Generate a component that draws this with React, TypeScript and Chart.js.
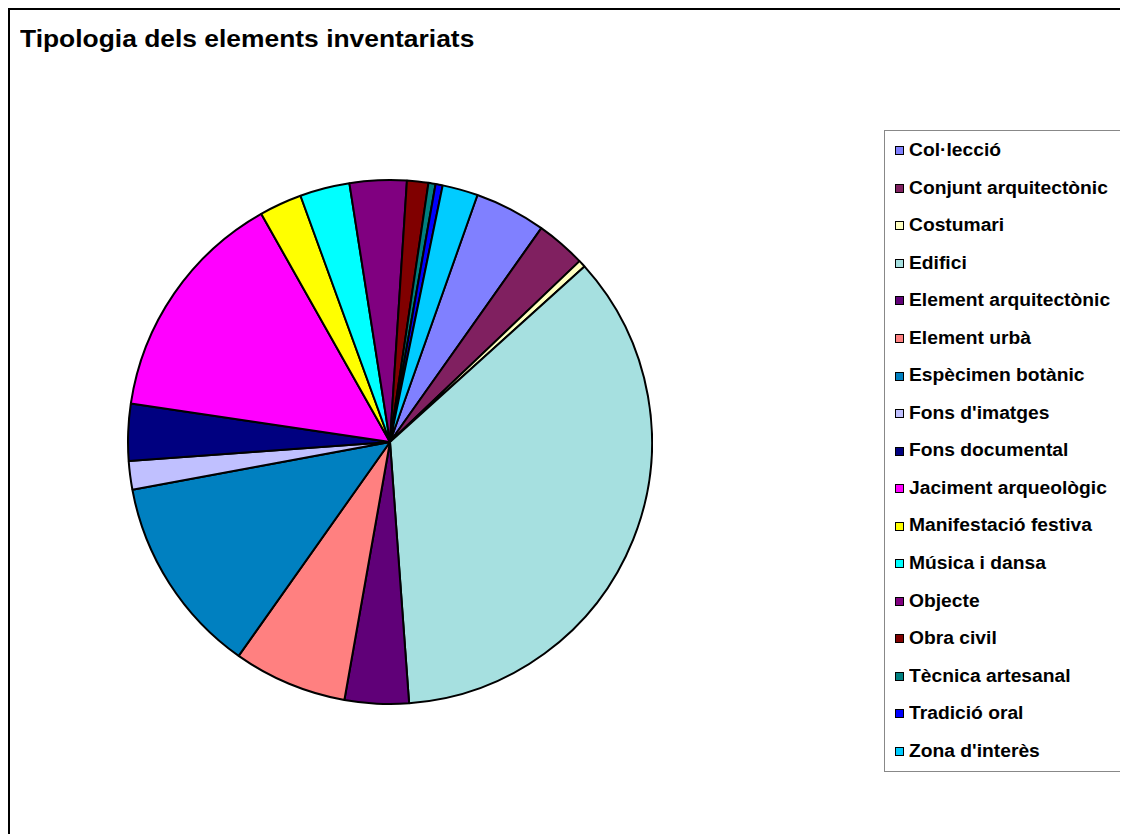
import { useEffect, useRef } from 'react';
import { Chart, PieController, ArcElement } from 'chart.js';

Chart.register(PieController, ArcElement);

const title = 'Tipologia dels elements inventariats';

const categories = [
  'Col·lecció',
  'Conjunt arquitectònic',
  'Costumari',
  'Edifici',
  'Element arquitectònic',
  'Element urbà',
  'Espècimen botànic',
  "Fons d'imatges",
  'Fons documental',
  'Jaciment arqueològic',
  'Manifestació festiva',
  'Música i dansa',
  'Objecte',
  'Obra civil',
  'Tècnica artesanal',
  'Tradició oral',
  "Zona d'interès",
];

// number of elements per type
const counts = [10, 7, 1, 81, 9, 16, 28, 4, 8, 33, 6, 7, 8, 3, 1, 1, 5];

const colors = [
  '#8080FF',
  '#802060',
  '#FFFFC0',
  '#A6E0E0',
  '#600078',
  '#FF8080',
  '#0080C0',
  '#C0C0FF',
  '#000080',
  '#FF00FF',
  '#FFFF00',
  '#00FFFF',
  '#800080',
  '#800000',
  '#008080',
  '#0000FF',
  '#00CCFF',
];

const FONT = '"Liberation Sans", Arial, sans-serif';

export default function App() {
  const canvasRef = useRef<HTMLCanvasElement | null>(null);
  const chartRef = useRef<Chart | null>(null);

  useEffect(() => {
    const ctx = canvasRef.current!.getContext('2d')!;

    if (chartRef.current) {
      chartRef.current.destroy();
      chartRef.current = null;
    }

    chartRef.current = new Chart(ctx, {
      type: 'pie',
      data: {
        labels: categories,
        datasets: [
          {
            data: counts,
            backgroundColor: colors,
            borderColor: '#000000',
            borderWidth: 2,
          },
        ],
      },
      options: {
        responsive: false,
        animation: false,
        rotation: 19.5,
        layout: { padding: 0 },
        plugins: {
          legend: { display: false },
          tooltip: { enabled: false },
        },
      },
    });

    return () => {
      if (chartRef.current) {
        chartRef.current.destroy();
        chartRef.current = null;
      }
    };
  }, []);

  return (
    <div
      style={{
        position: 'relative',
        width: 1120,
        height: 826,
        boxSizing: 'border-box',
        borderTop: '2px solid #000',
        borderLeft: '2px solid #000',
        overflow: 'hidden',
        fontFamily: FONT,
        background: '#fff',
      }}
    >
      <div
        style={{
          position: 'absolute',
          left: 10,
          top: 17,
          fontSize: 24,
          lineHeight: '24px',
          fontWeight: 'bold',
          whiteSpace: 'nowrap',
          transform: 'scaleX(1.1)',
          transformOrigin: 'left center',
        }}
      >
        {title}
      </div>

      <canvas
        ref={canvasRef}
        width={526}
        height={526}
        style={{ position: 'absolute', left: 117, top: 169, width: 526, height: 526 }}
      />

      <div
        style={{
          position: 'absolute',
          left: 874,
          top: 120,
          width: 241,
          height: 642,
          boxSizing: 'border-box',
          border: '1px solid #888',
          paddingTop: 1,
        }}
      >
        {categories.map((c, i) => (
          <div
            key={c}
            style={{
              height: 37.56,
              display: 'flex',
              alignItems: 'center',
              whiteSpace: 'nowrap',
            }}
          >
            <span
              style={{
                display: 'inline-block',
                width: 9,
                height: 9,
                boxSizing: 'border-box',
                border: '1.5px solid #000',
                background: colors[i],
                marginLeft: 10,
                marginRight: 5,
                flex: 'none',
              }}
            />
            <span
              style={{
                fontSize: 17.5,
                lineHeight: '37.56px',
                fontWeight: 'bold',
                transform: 'scaleX(1.1)',
                transformOrigin: 'left center',
                display: 'inline-block',
              }}
            >
              {c}
            </span>
          </div>
        ))}
      </div>
    </div>
  );
}
